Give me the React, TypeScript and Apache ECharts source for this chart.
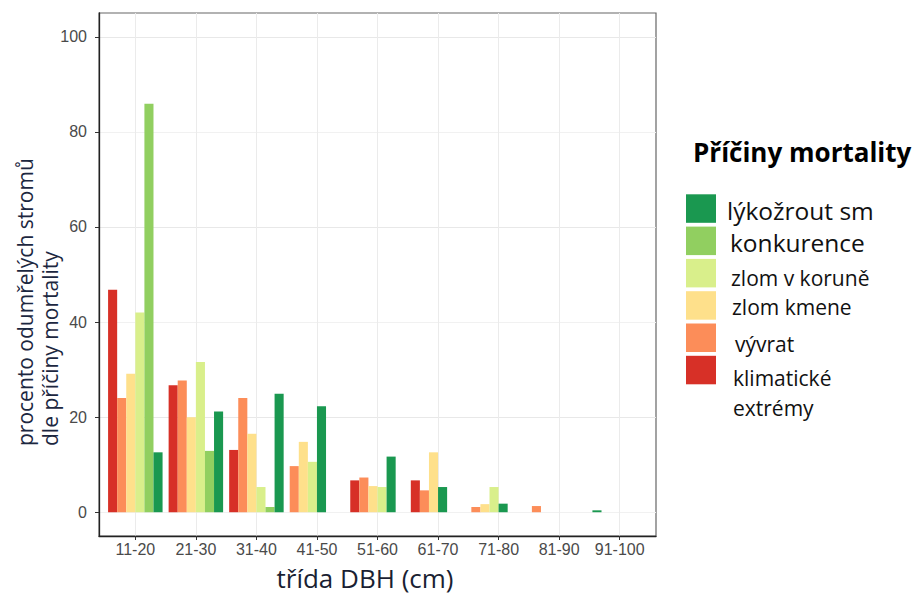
import { useEffect, useRef } from 'react';
import * as echarts from 'echarts';

// ---- data ----
const categories = ['11-20', '21-30', '31-40', '41-50', '51-60', '61-70', '71-80', '81-90', '91-100'];
const causeNames = ['klimatické extrémy', 'vývrat', 'zlom kmene', 'zlom v koruně', 'konkurence', 'lýkožrout sm'];
const causeColors = ['#D73027', '#FC8D59', '#FEE08B', '#D9EF8B', '#91CF60', '#1A9850'];
const klimatickeExtremy = [46.8, 26.7, 13.1, 0, 6.7, 6.7, 0, 0, 0];
const vyvrat = [24.0, 27.7, 24.0, 9.7, 7.3, 4.6, 1.1, 1.3, 0];
const zlomKmene = [29.1, 20.0, 16.5, 14.8, 5.5, 12.6, 1.7, 0, 0];
const zlomVKorune = [42.0, 31.6, 5.3, 10.6, 5.3, 0, 5.3, 0, 0];
const konkurence = [85.9, 12.9, 1.1, 0, 0, 0, 0, 0, 0];
const lykozroutSm = [12.6, 21.2, 24.9, 22.3, 11.7, 5.3, 1.8, 0, 0.4];
const yTickValues = [0, 20, 40, 60, 80, 100];
const legendTitle = 'Příčiny mortality';
const yTitleLines = ['procento odumřelých stromů', 'dle příčiny mortality'];
const xTitle = 'třída DBH (cm)';

const causeValues = [klimatickeExtremy, vyvrat, zlomKmene, zlomVKorune, konkurence, lykozroutSm];
const xTickValues = categories.map((_, i) => i + 1);

// ggplot position_dodge(preserve = "single"): present bars are packed from the left
const slotSeries = causeNames.map((_, slot) => ({
  type: 'bar',
  name: 'pozice ' + (slot + 1),
  barGap: '0%',
  barCategoryGap: '10%',
  silent: true,
  data: categories
    .map((_, ci) => {
      const present = causeValues
        .map((arr, k) => ({ k, v: arr[ci] }))
        .filter((d) => d.v > 0);
      const d = present[slot];
      return d
        ? { value: [ci + 1, d.v], name: causeNames[d.k], itemStyle: { color: causeColors[d.k] } }
        : null;
    })
    .filter((d) => d !== null),
}));

// legend (top to bottom)
const legendOrder = [5, 4, 3, 2, 1, 0];
const legendFont = [21, 21, 21, 21, 24.5, 24.5];
const legendDy = [0, 6, 2, 5, 2, 2];
const legendDx = [47, 49, 46, 45, 44, 41];
const legendLabel = (k: number) => (k === 0 ? 'klimatické\nextrémy' : causeNames[k]);

function buildGraphics() {
  const g: any[] = [];
  g.push({
    type: 'text',
    x: 693,
    y: 152,
    style: { text: legendTitle, font: 'bold 26px "Open Sans"', fill: '#000', align: 'left', verticalAlign: 'middle' },
  });
  legendOrder.forEach((k, i) => {
    const top = 194.3 + i * 32.3;
    g.push({ type: 'rect', shape: { x: 686, y: top, width: 30, height: 28.5 }, style: { fill: causeColors[k] } });
    g.push({
      type: 'text',
      x: 686 + legendDx[k],
      y: k === 0 ? top + 7 : top + 14.25 + legendDy[k],
      style: {
        text: legendLabel(k),
        font: `${legendFont[k]}px "Open Sans"`,
        fill: '#111',
        align: 'left',
        verticalAlign: k === 0 ? 'top' : 'middle',
        lineHeight: 30,
      },
    });
  });
  yTitleLines.forEach((t, i) => {
    g.push({
      type: 'text',
      x: 25 + i * 25,
      y: 446,
      rotation: Math.PI / 2,
      style: { text: t, font: '21px "Open Sans"', fill: '#1c2740', align: 'left', verticalAlign: 'middle' },
    });
  });
  g.push({
    type: 'text',
    x: 365,
    y: 577.5,
    style: {
      text: xTitle,
      font: '26px "Open Sans"',
      lineHeight: 26,
      fill: '#1a1f33',
      align: 'center',
      verticalAlign: 'middle',
    },
  });
  return g;
}

export default function App() {
  const ref = useRef<HTMLDivElement>(null);
  useEffect(() => {
    if (!ref.current) return;
    const chart = echarts.init(ref.current, undefined, { renderer: 'svg' });
    const option: any = {
      animation: false,
      backgroundColor: '#ffffff',
      grid: {
        left: 99,
        right: 260,
        top: 13,
        bottom: 60,
        show: true,
        borderColor: '#666',
        borderWidth: 1.2,
        backgroundColor: 'transparent',
        containLabel: false,
        outerBoundsMode: 'none',
      },
      xAxis: {
        type: 'value',
        min: 0.4,
        max: 9.6,
        splitNumber: 9,
        axisLine: { show: true, onZero: false, lineStyle: { color: '#222', width: 1.3 } },
        axisTick: {
          show: true,
          length: 4,
          lineStyle: { color: '#333' },
          customValues: xTickValues,
        },
        axisLabel: {
          customValues: xTickValues,
          formatter: (v: number) =>
            Number.isInteger(v) && v >= 1 && v <= categories.length ? categories[v - 1] : '',
          color: '#4a4a4a',
          fontSize: 16,
          lineHeight: 15,
          fontFamily: 'Liberation Sans',
          margin: 6,
        },
        splitLine: { show: true, lineStyle: { color: '#EBEBEB', width: 1 } },
      },
      yAxis: {
        type: 'value',
        min: -5,
        max: 105,
        splitNumber: 11,
        axisLine: { show: true, onZero: false, lineStyle: { color: '#222', width: 1.3 } },
        axisTick: { show: true, length: 4, lineStyle: { color: '#333' }, customValues: yTickValues },
        axisLabel: {
          customValues: yTickValues,
          formatter: (v: number) => (yTickValues.indexOf(v) >= 0 ? String(v) : ''),
          color: '#4a4a4a',
          fontSize: 16,
          fontFamily: 'Liberation Sans',
          margin: 12,
        },
        splitLine: { show: true, lineStyle: { color: ['#F1F1F1', '#E8E8E8'], width: 1 } },
      },
      series: slotSeries,
      graphic: buildGraphics(),
    };
    chart.setOption(option);
    return () => chart.dispose();
  }, []);
  return (
    <div
      ref={ref}
      style={{ position: 'absolute', left: 0, top: 0, width: 916, height: 596, background: '#fff' }}
    />
  );
}
